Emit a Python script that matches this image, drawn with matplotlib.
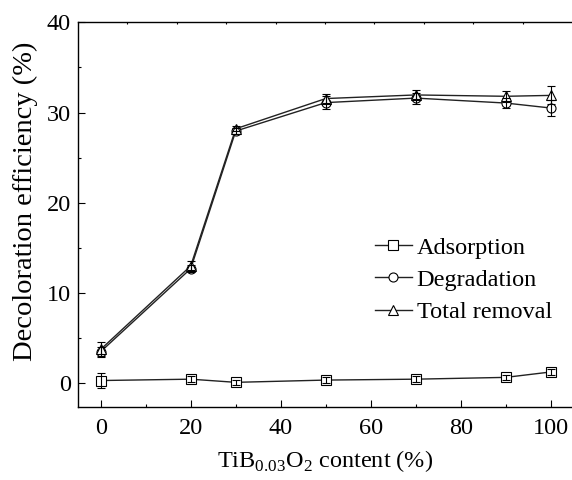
import matplotlib
matplotlib.use("Agg")
import matplotlib.pyplot as plt
from matplotlib.ticker import MultipleLocator

plt.rcParams["font.family"] = "Liberation Serif"
plt.rcParams["mathtext.fontset"] = "custom"
plt.rcParams["mathtext.rm"] = "Liberation Serif"
plt.rcParams["font.size"] = 17

# TiB0.03O2 content (%)
content = [0, 20, 30, 50, 70, 90, 100]
adsorption = [0.3, 0.45, 0.1, 0.35, 0.45, 0.65, 1.25]
adsorption_err = [0.8, 0.3, 0.25, 0.3, 0.3, 0.3, 0.3]
degradation = [3.5, 12.7, 27.95, 31.1, 31.6, 31.05, 30.5]
degradation_err = [0.5, 0.4, 0.3, 0.7, 0.6, 0.6, 0.9]
total = [3.75, 13.0, 28.2, 31.55, 31.95, 31.8, 31.9]
total_err = [0.8, 0.5, 0.3, 0.5, 0.5, 0.6, 1.0]

fig = plt.figure(figsize=(5.72, 4.8), dpi=100)
ax = fig.add_axes([78 / 572, 1 - 406.7 / 480, 1 - 78 / 572, (406.7 - 22.3) / 480])

series = [
    (adsorption, adsorption_err, "s", "Adsorption"),
    (degradation, degradation_err, "o", "Degradation"),
    (total, total_err, "^", "Total removal"),
]
for vals, err, mk, lab in series:
    ax.plot(content, vals, color="#222222", lw=1.0, marker=mk, ms=6.5 if mk != "^" else 7.5,
            mfc="white", mec="black", mew=0.8, label=lab, zorder=3)
    ax.errorbar(content, vals, yerr=err, fmt="none", ecolor="black", elinewidth=0.8,
                capsize=3, capthick=0.8, zorder=4)

ax.set_xlim(-5.04, 104.7)
ax.set_ylim(-2.6, 40)
ax.xaxis.set_major_locator(MultipleLocator(20))
ax.xaxis.set_minor_locator(MultipleLocator(10))
ax.yaxis.set_major_locator(MultipleLocator(10))
ax.yaxis.set_minor_locator(MultipleLocator(5))
ax.tick_params(which="both", direction="in", width=0.8, labelsize=17.5)
ax.tick_params(which="major", length=5)
ax.tick_params(which="minor", length=2.5)
ax.tick_params(axis="x", pad=8)
ax.tick_params(axis="y", pad=5)
ax.spines["right"].set_visible(False)
for s in ["left", "bottom", "top"]:
    ax.spines[s].set_linewidth(1.0)

top = ax.twiny()
top.set_xlim(0, 10)
top.set_xticks(range(1, 10))
top.tick_params(axis="x", direction="in", length=1.5, width=0.8, labeltop=False,
                bottom=False, labelbottom=False)
for s in top.spines.values():
    s.set_visible(False)

ax.set_xlabel(r"TiB$_{\mathregular{0.03}}$O$_{\mathregular{2}}$ content (%)", fontsize=17.5, labelpad=7)
ax.set_ylabel("Decoloration efficiency (%)", fontsize=20.5)
ax.yaxis.set_label_coords(-0.081, 0.534)

leg = ax.legend(loc="center left", bbox_to_anchor=(0.601, 0.33), frameon=False, fontsize=17.5,
                handlelength=1.52, handletextpad=0.2, labelspacing=0.42, borderaxespad=0,
                borderpad=0)

fig.savefig("out.png", dpi=100)
